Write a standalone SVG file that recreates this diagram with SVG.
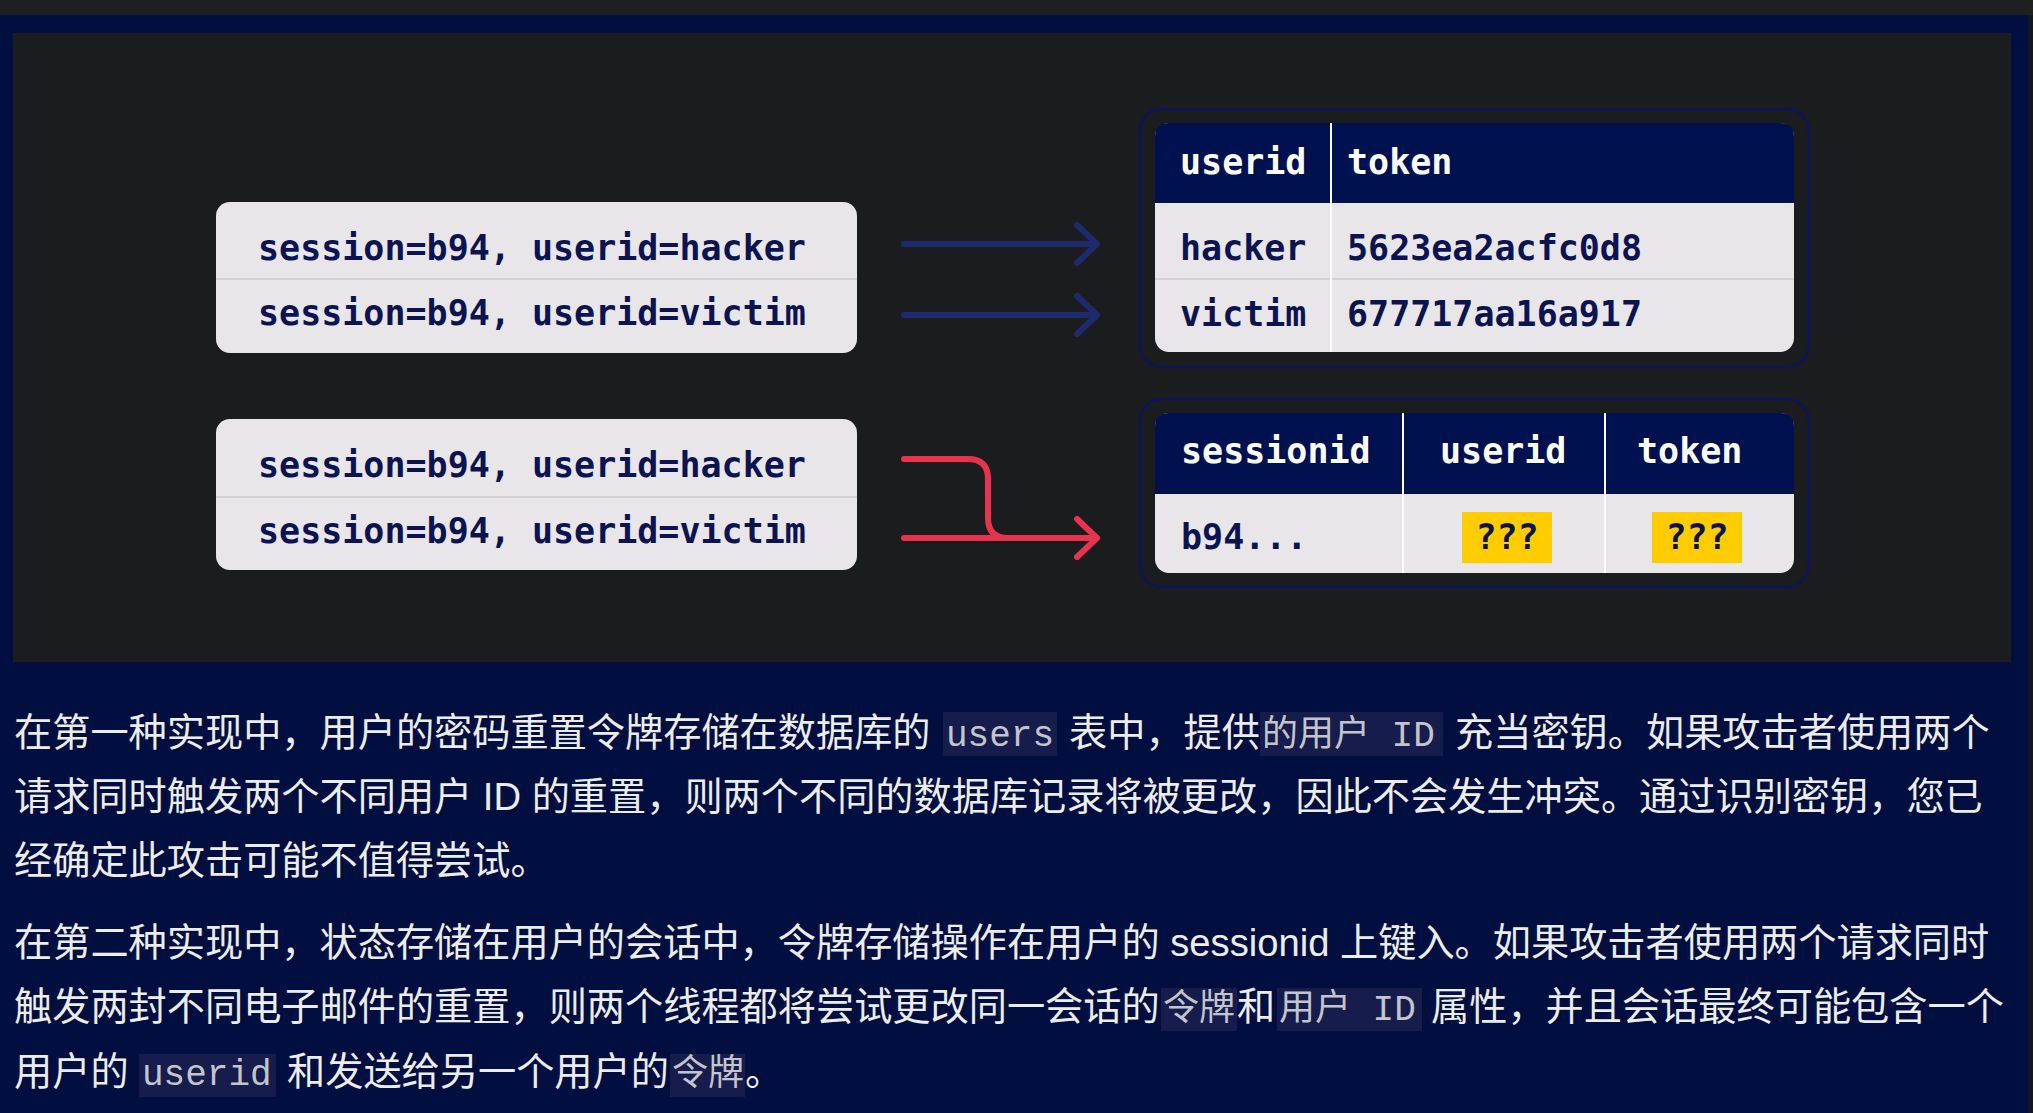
<svg xmlns="http://www.w3.org/2000/svg" width="2033" height="1113" viewBox="0 0 2033 1113">
<style>
.mono{font-family:"DejaVu Sans Mono","Liberation Mono",monospace;font-weight:bold;font-size:35px}
.dark{fill:#0b1450}
.light{fill:#ffffff}
.card{fill:#e8e6e8}
.hdr{fill:#001150}
.rowline{stroke:#d4d2d4;stroke-width:2}
.colline{stroke:#ffffff;stroke-width:2}
.frame{fill:none;stroke:#0d1650;stroke-width:3}
.body{font-family:"Liberation Sans","Noto Sans CJK SC",sans-serif;font-size:38.2px;fill:#ececec}
.code{font-family:"Liberation Mono","Noto Sans CJK SC",monospace;font-size:36px;fill:#c4c4cc}
.codebg{fill:#161c4b}
.blue{fill:none;stroke:#1d2a6e;stroke-width:6;stroke-linecap:round;stroke-linejoin:round}
.red{fill:none;stroke:#e8334e;stroke-width:6;stroke-linecap:round;stroke-linejoin:round}
</style>
<rect x="0" y="0" width="2033" height="1113" fill="#000f3f"/>
<rect x="0" y="0" width="2033" height="15" fill="#1f1f1f"/>
<rect x="2028" y="15" width="5" height="1098" fill="#14161f"/>
<rect x="13" y="33" width="1998" height="629" fill="#1b1c1e"/>

<g id="box-requests-1">
<rect class="card" x="216" y="202" width="641" height="151" rx="14"/>
<line class="rowline" x1="216" y1="279" x2="857" y2="279"/>
<text class="mono dark" x="258" y="260">session=b94, userid=hacker</text>
<text class="mono dark" x="258" y="325">session=b94, userid=victim</text>
</g>

<g id="box-requests-2">
<rect class="card" x="216" y="419" width="641" height="151" rx="14"/>
<line class="rowline" x1="216" y1="497" x2="857" y2="497"/>
<text class="mono dark" x="258" y="477">session=b94, userid=hacker</text>
<text class="mono dark" x="258" y="543">session=b94, userid=victim</text>
</g>

<g id="connectors">
<path class="blue" d="M904 244 H1097 M1077 225 L1097 244 L1077 263"/>
<path class="blue" d="M904 315 H1097 M1077 296 L1097 315 L1077 334"/>
<path class="red" d="M904 459 H968 Q988 459 988 479 V518 Q988 538 1008 538"/>
<path class="red" d="M904 538 H1097 M1077 519 L1097 538 L1077 557"/>
</g>

<g id="table-users">
<rect class="frame" x="1140" y="109" width="669" height="258" rx="22"/>
<rect class="card" x="1155" y="123" width="639" height="229" rx="14"/>
<path class="hdr" d="M1155 203 V137 Q1155 123 1169 123 H1780 Q1794 123 1794 137 V203 Z"/>
<line class="rowline" x1="1155" y1="279" x2="1794" y2="279"/>
<line class="colline" x1="1331" y1="123" x2="1331" y2="352"/>
<text class="mono light" x="1180" y="174">userid</text>
<text class="mono light" x="1347" y="174">token</text>
<text class="mono dark" x="1180" y="260">hacker</text>
<text class="mono dark" x="1347" y="260">5623ea2acfc0d8</text>
<text class="mono dark" x="1180" y="326">victim</text>
<text class="mono dark" x="1347" y="326">677717aa16a917</text>
</g>

<g id="table-sessions">
<rect class="frame" x="1140" y="399" width="669" height="188" rx="22"/>
<rect class="card" x="1155" y="413" width="639" height="160" rx="14"/>
<path class="hdr" d="M1155 494 V427 Q1155 413 1169 413 H1780 Q1794 413 1794 427 V494 Z"/>
<line class="colline" x1="1403" y1="413" x2="1403" y2="573"/>
<line class="colline" x1="1605" y1="413" x2="1605" y2="573"/>
<text class="mono light" x="1181" y="463">sessionid</text>
<text class="mono light" x="1440" y="463">userid</text>
<text class="mono light" x="1637" y="463">token</text>
<text class="mono dark" x="1181" y="549">b94...</text>
<rect x="1462" y="512" width="90" height="51" fill="#ffcc00"/>
<rect x="1652" y="512" width="90" height="51" fill="#ffcc00"/>
<text class="mono dark" x="1507" y="549" text-anchor="middle">???</text>
<text class="mono dark" x="1697" y="549" text-anchor="middle">???</text>
</g>

<g id="caption">
<rect class="codebg" x="943" y="712" width="114" height="44"/>
<rect class="codebg" x="1260" y="712" width="183" height="44"/>
<rect class="codebg" x="1161" y="988" width="76" height="43"/>
<rect class="codebg" x="1277" y="988" width="145" height="43"/>
<rect class="codebg" x="139" y="1054" width="137" height="43"/>
<rect class="codebg" x="670" y="1054" width="75" height="43"/>

<text class="body" x="14" y="746">在第一种实现中，用户的密码重置令牌存储在数据库的</text>
<text class="code" x="946" y="746">users</text>
<text class="body" x="1069" y="746">表中，提供</text>
<text class="code" x="1262" y="746">的用户 ID</text>
<text class="body" x="1455" y="746">充当密钥。如果攻击者使用两个</text>
<text class="body" x="14" y="810">请求同时触发两个不同用户 ID 的重置，则两个不同的数据库记录将被更改，因此不会发生冲突。通过识别密钥，您已</text>
<text class="body" x="14" y="874">经确定此攻击可能不值得尝试。</text>

<text class="body" x="14" y="956">在第二种实现中，状态存储在用户的会话中，令牌存储操作在用户的 sessionid 上键入。如果攻击者使用两个请求同时</text>
<text class="body" x="14" y="1020">触发两封不同电子邮件的重置，则两个线程都将尝试更改同一会话的</text>
<text class="code" x="1163" y="1020">令牌</text>
<text class="body" x="1237" y="1020">和</text>
<text class="code" x="1279" y="1020">用户 ID</text>
<text class="body" x="1431" y="1020">属性，并且会话最终可能包含一个</text>
<text class="body" x="14" y="1085">用户的</text>
<text class="code" x="142" y="1085">userid</text>
<text class="body" x="287" y="1085">和发送给另一个用户的</text>
<text class="code" x="672" y="1085">令牌</text>
<text class="body" x="745" y="1085">。</text>
</g>
</svg>
